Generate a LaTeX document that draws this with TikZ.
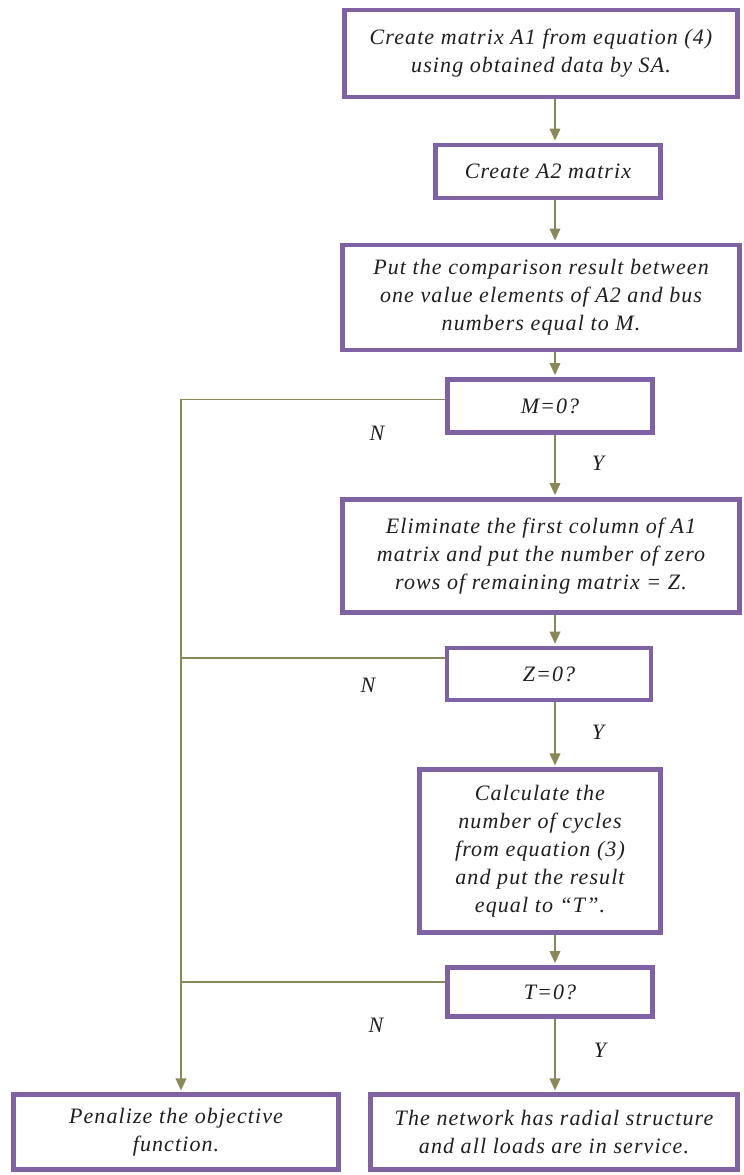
\documentclass[tikz,border=0pt]{standalone}
\usepackage{fontspec}
\setmainfont[LetterSpace=5]{Liberation Serif}
\usetikzlibrary{arrows.meta,shapes}
\definecolor{boxpurple}{RGB}{126,98,164}
\definecolor{flowolive}{RGB}{138,136,88}
\tikzstyle{block}=[draw=boxpurple,line width=3.4pt,fill=white,align=center,inner sep=2pt,text=black!88,font=\itshape\fontsize{16.5}{21}\selectfont]
\tikzstyle{answer}=[inner sep=1pt,text=black!88,font=\itshape\fontsize{16.5}{21}\selectfont]
\tikzstyle{flow}=[draw=flowolive,line width=1.1pt,-]
\tikzstyle{flow arrow}=[flow,-{Triangle[length=9pt,width=8pt]},shorten >=1.5pt]

\begin{document}
\begin{tikzpicture}[x=0.75pt,y=-0.75pt]
    \useasboundingbox (0,0) rectangle (743,1175);
    % Main column of steps
    \node[block,minimum width=295pt,minimum height=65pt] (A1) at (541,53.5)
        {Create matrix A1 from equation (4)\\ using obtained data by SA.};
    \node[block,minimum width=169pt,minimum height=40pt] (A2) at (548,171.5)
        {Create A2 matrix};
    \node[block,minimum width=298pt,minimum height=79pt] (cmp) at (541,297.5)
        {Put the comparison result between\\ one value elements of A2 and bus\\ numbers equal to M.};
    \node[block,minimum width=154pt,minimum height=40pt] (M) at (550,406) {M=0?};
    \node[block,minimum width=298pt,minimum height=85pt] (elim) at (541,556)
        {Eliminate the first column of A1\\ matrix and put the number of zero\\ rows of remaining matrix = Z.};
    \node[block,minimum width=153pt,minimum height=39pt] (Z) at (549,674) {Z=0?};
    \node[block,minimum width=181pt,minimum height=122pt] (calc) at (540,851)
        {Calculate the\\ number of cycles\\ from equation (3)\\ and put the result\\ equal to ``T''.};
    \node[block,minimum width=154pt,minimum height=37pt] (T) at (550,992) {T=0?};
    % Final boxes
    \node[block,minimum width=244pt,minimum height=56pt] (pen) at (176,1132)
        {Penalize the objective\\ function.};
    \node[block,minimum width=275pt,minimum height=56pt] (net) at (554,1132)
        {The network has radial structure\\ and all loads are in service.};

    \coordinate (spine) at (555,0);
    \coordinate (trunk) at (181,0);

    % Connect the steps (Y branch)
    \foreach \source/\dest in {A1/A2, A2/cmp, cmp/M, M/elim, elim/Z, Z/calc, calc/T, T/net}
        \path[flow arrow] (\source.south -| spine) -- (\dest.north -| spine);

    % N branches to the left trunk
    \foreach \test/\dy in {M/5, Z/12, T/7.5}
        \path[flow] ([yshift=\dy pt]\test.west) -- ([yshift=\dy pt]\test.west -| trunk);
    \path[flow arrow] ([yshift=5pt]M.west -| trunk) -- (pen.north -| trunk);

    % Labels
    \foreach \pos/\name/\txt in {(377,433)/nM/N, (368,685)/nZ/N, (376,1025)/nT/N,
                                 (598,463)/yM/Y, (598,732)/yZ/Y, (600,1050)/yT/Y}
        \node[answer] (\name) at \pos {\txt};
\end{tikzpicture}
\end{document}
